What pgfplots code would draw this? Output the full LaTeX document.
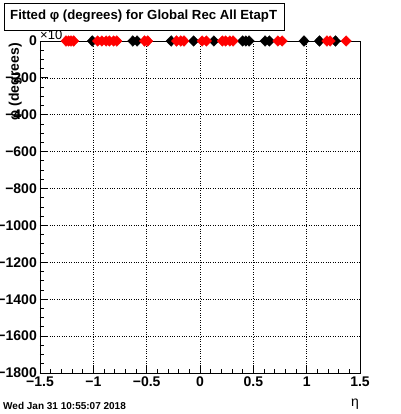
\documentclass[border=0pt]{standalone}
\usepackage{pgfplots}
\pgfplotsset{compat=1.18}
\usepackage{fontspec}
\setmainfont{Liberation Sans}
\begin{document}
\begin{tikzpicture}[x=1pt,y=1pt]
\useasboundingbox (0,0) rectangle (400,414);
\fill[white] (0,0) rectangle (400,414);
\begin{axis}[
  at={(40pt,41pt)}, anchor=south west,
  scale only axis, width=320pt, height=332pt,
  xmin=-1.5, xmax=1.5, ymin=-1800, ymax=0,
  xtick={-1.5,-1,-0.5,0,0.5,1,1.5},
  xticklabels={−1.5,−1,−0.5,0,0.5,1,1.5},
  ytick={-1800,-1600,-1400,-1200,-1000,-800,-600,-400,-200,0},
  yticklabels={−1800,−1600,−1400,−1200,−1000,−800,−600,−400,−200,0},
  minor x tick num=4, minor y tick num=3,
  xtick pos=bottom, ytick pos=left, tick align=inside,
  major tick length=8pt, minor tick length=4pt,
  grid=major, grid style={black, dotted, line width=0.7pt},
  axis line style={black, line width=0.8pt},
  every tick/.style={black, line width=0.8pt},
  xticklabel style={font=\bfseries\fontsize{14}{14}\selectfont, inner sep=0pt, yshift=-4pt},
  yticklabel style={font=\bfseries\fontsize{14}{14}\selectfont, inner sep=0pt, xshift=-3pt},
  clip=false,
]
\addplot[only marks, mark=diamond*, mark size=5.3pt, mark options={black, fill=black, xscale=1.3}] coordinates {
(-1.01,0) (-0.63,0) (-0.59,0) (-0.27,0) (-0.06,0) (0.13,0)
(0.40,0) (0.43,0) (0.46,0) (0.61,0) (0.65,0) (0.975,0) (1.12,0) (1.27,0)
};
\addplot[only marks, mark=diamond*, mark size=5.3pt, mark options={red, fill=red, xscale=1.3}] coordinates {
(-1.256,0) (-1.232,0) (-1.209,0) (-1.184,0)
(-0.96,0) (-0.92,0) (-0.88,0) (-0.85,0) (-0.81,0) (-0.78,0)
(-0.52,0) (-0.49,0)
(-0.22,0) (-0.18,0) (-0.15,0)
(0.02,0) (0.06,0)
(0.21,0) (0.24,0) (0.28,0) (0.31,0)
(0.73,0) (0.77,0)
(1.19,0) (1.22,0) (1.37,0)
};
\end{axis}
\node[anchor=south west, inner sep=0pt, font=\fontsize{13}{13}\selectfont] at (40,374) {×10};
\draw[fill=white, line width=0.8pt] (4,384) rectangle (284,411);
\node[anchor=west, inner sep=0pt, font=\bfseries\fontsize{13.2}{13.2}\selectfont] at (10,397.5) {Fitted φ (degrees) for Global Rec All EtapT};
\node[rotate=90, anchor=south east, inner sep=0pt, font=\bfseries\fontsize{14}{14}\selectfont] at (22,371) {φ (degrees)};
\node[anchor=base west, inner sep=0pt, font=\bfseries\fontsize{10}{10}\selectfont] at (3,5) {Wed Jan 31 10:55:07 2018};
\node[anchor=base east, inner sep=0pt, font=\fontsize{14}{14}\selectfont] at (359,7) {η};
\end{tikzpicture}
\end{document}
